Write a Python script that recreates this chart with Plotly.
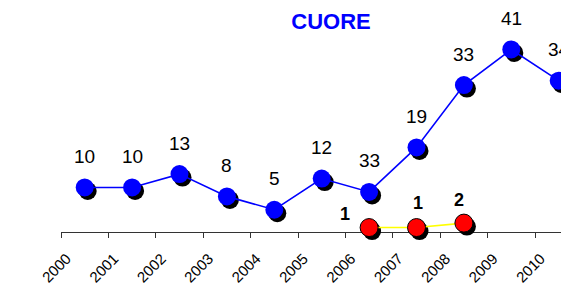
import plotly.graph_objects as go

# ---------------- data ----------------
years = ["2000", "2001", "2002", "2003", "2004", "2005", "2006", "2007", "2008", "2009", "2010"]
blue_values = [10, 10, 13, 8, 5, 12, 9, 19, 33, 41, 34]
blue_labels = ["10", "10", "13", "8", "5", "12", "33", "19", "33", "41", "34"]
red_years = ["2006", "2007", "2008"]
red_values = [1, 1, 2]
red_labels = ["1", "1", "2"]
title_text = "CUORE"

# ---------------- layout geometry / style ----------------
PAGE_OFF = 8  # default body margin of the html page
W, H = 569 - PAGE_OFF, 287 - PAGE_OFF
ml, mr = 61 - PAGE_OFF, 0
axis_y = 232 - PAGE_OFF
mt, mb = 0, H - axis_y
px_per_cat = 47.4
px_per_unit = 4.452
xr = [-0.5, -0.5 + (W - ml - mr) / px_per_cat]
yr = [0, (H - mt - mb) / px_per_unit]
sdx, sdy = 3.0, 3.5  # shadow offset in px
xr_s = [xr[0] - sdx / px_per_cat, xr[1] - sdx / px_per_cat]
yr_s = [yr[0] + sdy / px_per_unit, yr[1] + sdy / px_per_unit]

BLUE = "#0000FF"
RED = "#FF0000"
YELLOW = "#FFFF00"
FONT = "Liberation Sans, Arial, sans-serif"
MS = 18
blue_label_yshift = 31
red_label_xshift = [-24, 1, -5]
red_label_yshift = [14, 25, 23]

fig = go.Figure()

# invisible trace to anchor base axes
fig.add_trace(go.Scatter(x=years, y=blue_values, mode="markers", marker=dict(opacity=0),
                         hoverinfo="skip", showlegend=False, xaxis="x", yaxis="y"))
# shadows
fig.add_trace(go.Scatter(x=years, y=blue_values, mode="markers",
                         marker=dict(color="black", size=MS), cliponaxis=False,
                         showlegend=False, xaxis="x2", yaxis="y2"))
fig.add_trace(go.Scatter(x=red_years, y=red_values, mode="markers",
                         marker=dict(color="black", size=MS), cliponaxis=False,
                         showlegend=False, xaxis="x2", yaxis="y2"))
# main series
fig.add_trace(go.Scatter(x=years, y=blue_values, mode="lines+markers",
                         line=dict(color=BLUE, width=1.6),
                         marker=dict(color=BLUE, size=MS), cliponaxis=False,
                         showlegend=False, xaxis="x3", yaxis="y3"))
fig.add_trace(go.Scatter(x=red_years, y=red_values, mode="lines+markers",
                         line=dict(color=YELLOW, width=1.6),
                         marker=dict(color=RED, size=MS, line=dict(color="black", width=1)),
                         cliponaxis=False, showlegend=False, xaxis="x3", yaxis="y3"))

annotations = []
for yv, v, t in zip(years, blue_values, blue_labels):
    annotations.append(dict(x=years.index(yv), y=v, xref="x", yref="y", text=t, showarrow=False,
                            yshift=blue_label_yshift,
                            font=dict(family=FONT, size=19, color="black")))
for i, (yv, v, t) in enumerate(zip(red_years, red_values, red_labels)):
    annotations.append(dict(x=years.index(yv), y=v, xref="x", yref="y", text="<b>" + t + "</b>",
                            showarrow=False, xshift=red_label_xshift[i], yshift=red_label_yshift[i],
                            font=dict(family=FONT, size=18, color="black")))

hidden = dict(visible=False, showgrid=False, zeroline=False)
fig.update_layout(
    width=W, height=H,
    margin=dict(l=ml, r=mr, t=mt, b=mb, autoexpand=False),
    paper_bgcolor="white", plot_bgcolor="white",
    showlegend=False,
    title=dict(text="<b>" + title_text + "</b>", x=(331 - PAGE_OFF) / W, xanchor="center",
               y=1 - (21 - PAGE_OFF) / H, yanchor="middle", xref="container", yref="container",
               font=dict(family=FONT, size=22, color=BLUE)),
    xaxis=dict(type="category", categoryarray=years, range=xr, tickson="boundaries",
               ticks="outside", ticklen=5, tickcolor="#333333", showline=True,
               linecolor="#333333", linewidth=1, showgrid=False, zeroline=False,
               tickangle=-45, tickfont=dict(family=FONT, size=15, color="black"),
               ticklabelshift=-18, ticklabelstandoff=11,
               layer="below traces"),
    yaxis=dict(range=yr, showticklabels=False, ticks="", showline=False,
               showgrid=False, zeroline=False),
    xaxis2=dict(type="category", categoryarray=years, range=xr_s, overlaying="x", **hidden),
    yaxis2=dict(range=yr_s, overlaying="y", **hidden),
    xaxis3=dict(type="category", categoryarray=years, range=xr, overlaying="x", **hidden),
    yaxis3=dict(range=yr, overlaying="y", **hidden),
    annotations=annotations,
)

fig.write_html("out.html")
